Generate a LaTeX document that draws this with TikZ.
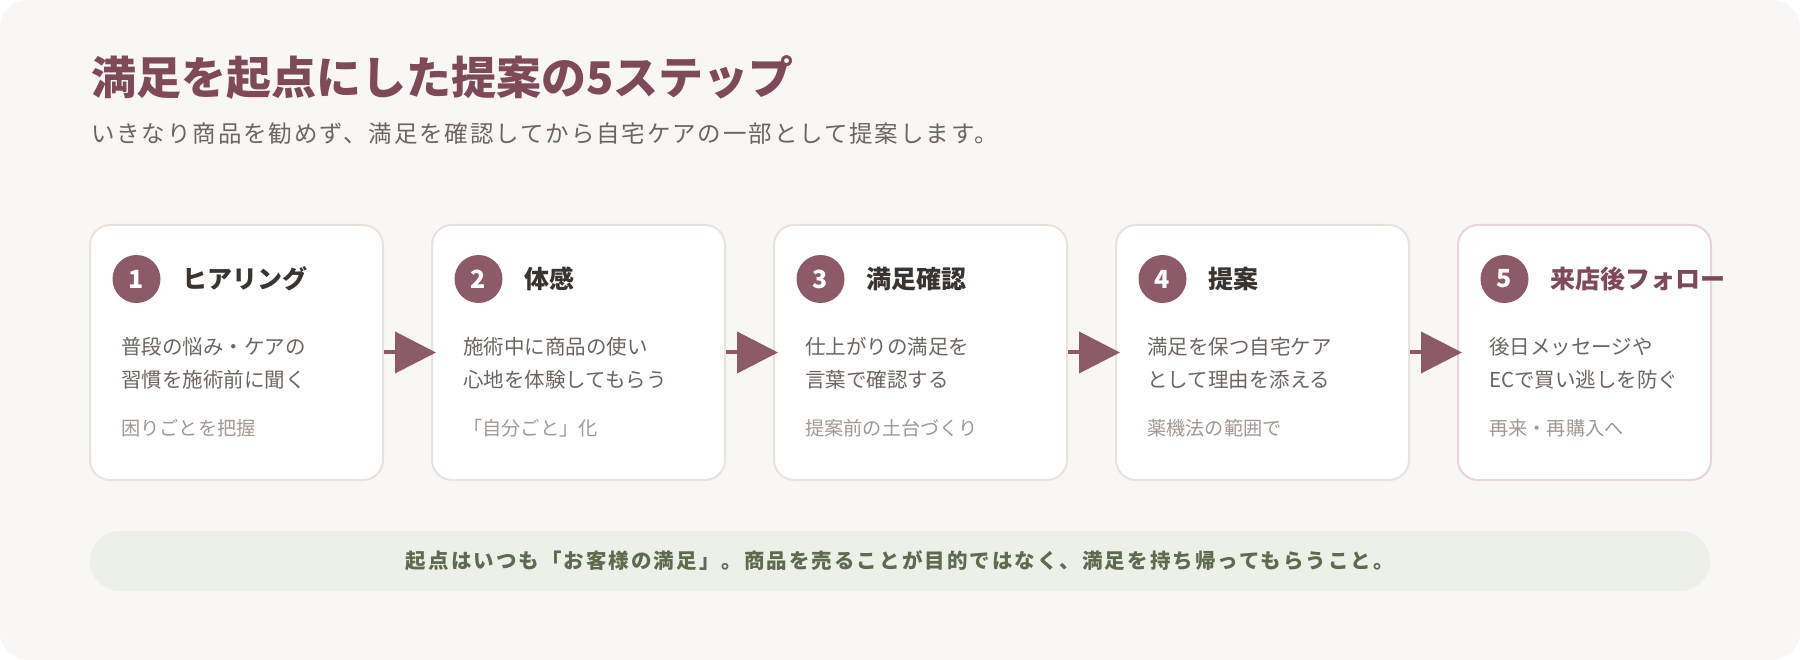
\documentclass[tikz,border=0pt]{standalone}
\usepackage{fontspec}
\newfontfamily\jp{Noto Sans CJK JP}
\usetikzlibrary{arrows.meta}

\definecolor{pagebg}{HTML}{F8F7F5}
\definecolor{plum}{HTML}{8C5A68}
\definecolor{plumdark}{HTML}{7E4A58}
\definecolor{ink}{HTML}{3A3431}
\definecolor{bodygray}{HTML}{6E6562}
\definecolor{notegray}{HTML}{A39893}
\definecolor{cardline}{HTML}{EAE2DD}
\definecolor{cardlinepink}{HTML}{E8D4D9}
\definecolor{sage}{HTML}{EDF0E8}
\definecolor{olive}{HTML}{5F6B4E}

\tikzset{
    card/.style={rectangle, rounded corners=20pt, draw=cardline, line width=2pt, fill=white,
        minimum width=293pt, minimum height=255pt},
    stepnum/.style={circle, fill=plum, text=white, minimum size=48pt, inner sep=0pt,
        font=\jp\bfseries\fontsize{25}{25}\selectfont},
    steptitle/.style={anchor=west, inner sep=0pt, text=ink, font=\jp\bfseries\fontsize{25}{25}\selectfont},
    stepbody/.style={anchor=west, inner sep=0pt, align=left, text=bodygray,
        font=\jp\fontsize{20.5}{33}\selectfont},
    stepnote/.style={anchor=west, inner sep=0pt, text=notegray, font=\jp\fontsize{19.2}{19.2}\selectfont},
    flow/.style={draw=plum, line width=4pt, -{Triangle[length=41pt, width=41pt]}},
}

\begin{document}
\begin{tikzpicture}[x=1pt, y=-1pt]
    \useasboundingbox (0,0) rectangle (1800,660);
    \fill[white] (0,0) rectangle (1800,660);
    \fill[pagebg, rounded corners=28pt] (0,0) rectangle (1800,660);

    % heading
    \node[anchor=west, inner sep=0pt, text=plumdark, font=\jp\bfseries\fontsize{45}{45}\selectfont] (title) at (91,78)
        {満足を起点にした提案の5ステップ};
    \node[anchor=west, inner sep=0pt, text=bodygray,
        font=\jp\fontsize{23.5}{23.5}\selectfont\addfontfeature{LetterSpace=8}] (subtitle) at (91,134)
        {いきなり商品を勧めず、満足を確認してから自宅ケアの一部として提案します。};

    % cards
    \node[card] (c1) at (236.5,352.5) {};
    \node[card] (c2) at (578.5,352.5) {};
    \node[card] (c3) at (920.5,352.5) {};
    \node[card] (c4) at (1262.5,352.5) {};
    \node[card, draw=cardlinepink, minimum width=253pt] (c5) at (1584.5,352.5) {};

    % step 1
    \node[stepnum] (n1) at (136.5,279) {1};
    \node[steptitle] (t1) at (182,279) {ヒアリング};
    \node[stepbody] (b1) at (121,363) {普段の悩み・ケアの\\習慣を施術前に聞く};
    \node[stepnote] (k1) at (121,428) {困りごとを把握};

    % step 2
    \node[stepnum] (n2) at (478.5,279) {2};
    \node[steptitle] (t2) at (524,279) {体感};
    \node[stepbody] (b2) at (463,363) {施術中に商品の使い\\心地を体験してもらう};
    \node[stepnote] (k2) at (463,428) {「自分ごと」化};

    % step 3
    \node[stepnum] (n3) at (820.5,279) {3};
    \node[steptitle] (t3) at (866,279) {満足確認};
    \node[stepbody] (b3) at (805,363) {仕上がりの満足を\\言葉で確認する};
    \node[stepnote] (k3) at (805,428) {提案前の土台づくり};

    % step 4
    \node[stepnum] (n4) at (1162.5,279) {4};
    \node[steptitle] (t4) at (1208,279) {提案};
    \node[stepbody] (b4) at (1147,363) {満足を保つ自宅ケア\\として理由を添える};
    \node[stepnote] (k4) at (1147,428) {薬機法の範囲で};

    % step 5
    \node[stepnum] (n5) at (1504.5,279) {5};
    \node[steptitle, text=plumdark] (t5) at (1550,279) {来店後フォロー};
    \node[stepbody] (b5) at (1489,363) {後日メッセージや\\ECで買い逃しを防ぐ};
    \node[stepnote] (k5) at (1489,428) {再来・再購入へ};

    % arrows
    \draw[flow] (c1.east) -- ([xshift=5pt]c2.west);
    \draw[flow] (c2.east) -- ([xshift=5pt]c3.west);
    \draw[flow] (c3.east) -- ([xshift=5pt]c4.west);
    \draw[flow] (c4.east) -- ([xshift=5pt]c5.west);

    % footer
    \node[rectangle, rounded corners=30pt, fill=sage, minimum width=1620pt, minimum height=60pt,
        text=olive, font=\jp\bfseries\fontsize{20.5}{20.5}\selectfont\addfontfeature{LetterSpace=10}] (foot) at (900,561)
        {起点はいつも「お客様の満足」。商品を売ることが目的ではなく、満足を持ち帰ってもらうこと。};
\end{tikzpicture}
\end{document}
